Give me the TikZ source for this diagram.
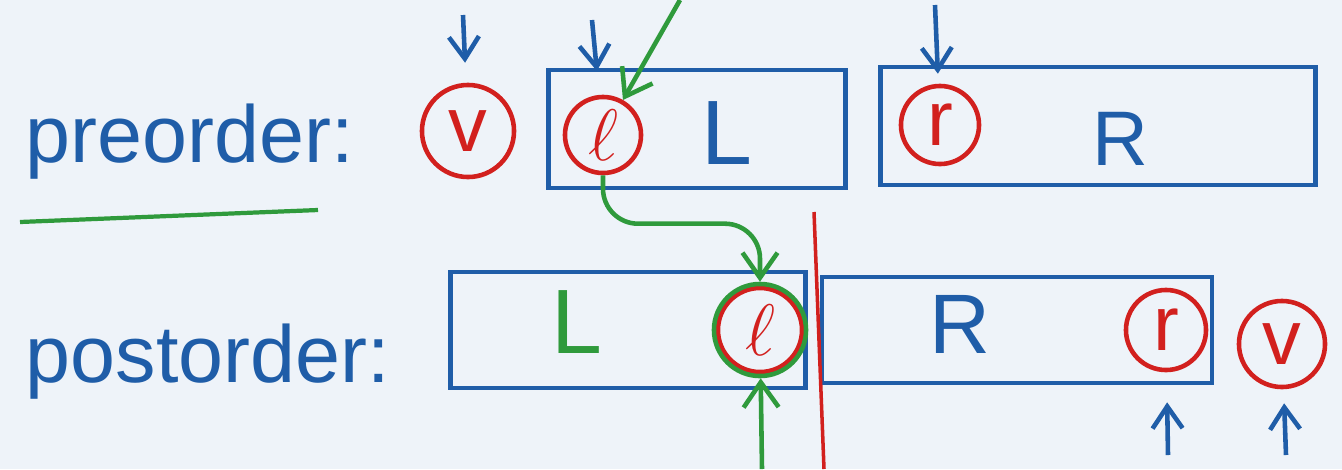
\documentclass[tikz,border=0pt]{standalone}
\usepackage{fontspec}
\setmainfont{Liberation Sans}
\usetikzlibrary{positioning,arrows.meta,calc}
\definecolor{inkblue}{HTML}{1F5DA8}
\definecolor{inkred}{HTML}{D2201E}
\definecolor{inkgreen}{HTML}{2F9A3C}
\definecolor{board}{HTML}{EEF3F9}

\begin{document}
\begin{tikzpicture}[x=0.01cm, y=-0.01cm,
  word/.style={text=inkblue, font=\fontsize{23}{26}\selectfont, anchor=base west, inner sep=0pt},
  part/.style={draw=inkblue, line width=1.3pt, inner sep=0pt},
  big/.style={text=inkblue, font=\fontsize{26}{28}\selectfont, inner sep=0pt},
  key/.style={circle, draw=inkred, line width=1.3pt, text=inkred, inner sep=0pt,
              font=\fontsize{22}{24}\selectfont},
  ptr/.style={-{Straight Barb[length=2.2mm, width=3mm]}, inkblue, line width=1.3pt},
  flow/.style={-{Straight Barb[length=2.5mm, width=3.5mm]}, inkgreen, line width=1.3pt}
]
  \fill[board] (0,0) rectangle (1342,469);
  \useasboundingbox (0,0) rectangle (1342,469);

  % labels
  \node[word] (pre) at (25,162) {preorder:};
  \node[word] (post) at (25,382) {postorder:};
  \coordinate (ul1) at (20,222);
  \coordinate (ul2) at (318,210);
  \draw[inkgreen, line width=1.2pt] (ul1) -- (ul2);

  % preorder row
  \node[key, minimum size=0.92cm] (v1) at (468,131) {v};
  \node[part, minimum width=2.97cm, minimum height=1.18cm] (L1) at (697,129) {};
  \node[key, minimum size=0.76cm] (l1) at (603,135) {$\ell$};
  \node[big] (Lt1) at (727,133) {L};
  \node[part, minimum width=4.35cm, minimum height=1.18cm] (R1) at (1098,126) {};
  \node[key, minimum size=0.78cm] (r1) at (940,125) {r};
  \node[big, font=\fontsize{22}{24}\selectfont] (Rt1) at (1120,139) {R};

  % postorder row
  \node[part, minimum width=3.55cm, minimum height=1.16cm] (L2) at (628,330) {};
  \node[big, text=inkgreen] (Lt2) at (577,322) {L};
  \node[key, minimum size=0.84cm] (l2) at (760,330) {$\ell$};
  \node[circle, draw=inkgreen, line width=1.3pt, minimum size=0.92cm] (l2g) at (l2) {};
  \node[part, minimum width=3.9cm, minimum height=1.06cm] (R2) at (1017,330) {};
  \node[big, font=\fontsize{24}{26}\selectfont] (Rt2) at (960,324) {R};
  \node[key, minimum size=0.8cm] (r2) at (1166,330) {r};
  \node[key, minimum size=0.86cm] (v2) at (1282,344) {v};

  % split line
  \coordinate (cutT) at (814,212);
  \coordinate (cutB) at (824,469);
  \draw[inkred, line width=1pt] (cutT) -- (cutB);

  % pointers
  \coordinate (pv1) at (463,15);
  \coordinate (pl1) at (592,20);
  \coordinate (pr1) at (935,5);
  \coordinate (pr2) at (1168,455);
  \coordinate (pv2) at (1286,455);
  \draw[ptr, shorten >=0.2cm] (pv1) -- (v1);
  \draw[ptr, shorten >=0.24cm] (pl1) -- (l1);
  \draw[ptr, shorten >=0.1cm] (pr1) -- (r1);
  \draw[ptr, shorten >=0.3cm] (pr2) -- (r2);
  \draw[ptr, shorten >=0.14cm] (pv2) -- (v2);

  % green moves
  \coordinate (gin) at (680,0);
  \coordinate (gup) at (762,469);
  \draw[flow] (gin) -- (l1);
  \draw[flow, rounded corners=0.35cm] (l1.south) |- ($(l2g.north)+(0,-58)$) -- (l2g.north);
  \draw[flow] (gup) -- (l2g);
\end{tikzpicture}
\end{document}
